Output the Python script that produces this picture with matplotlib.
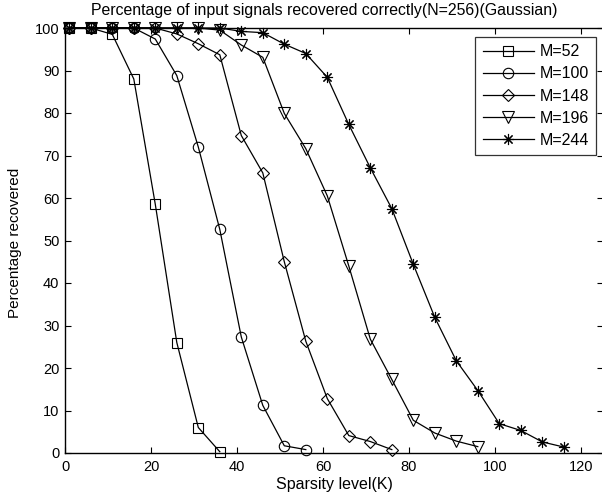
import matplotlib
matplotlib.use("Agg")
import matplotlib.pyplot as plt

plt.rcParams['font.family'] = ['Liberation Sans', 'DejaVu Sans']

K = [1, 6, 11, 16, 21, 26, 31, 36, 41, 46, 51, 56, 61, 66, 71, 76, 81, 86, 91, 96, 101, 106, 111, 116]

m52 = [100, 100, 98.5, 88, 58.5, 26, 6, 0.3]
m100 = [100, 100, 100, 100, 97.4, 88.8, 72, 52.6, 27.3, 11.2, 1.7, 0.8]
m148 = [100, 100, 100, 100, 100, 98.6, 96.3, 93.7, 74.7, 65.9, 45, 26.3, 12.8, 4.1, 2.7, 0.8]
m196 = [100, 100, 100, 100, 100, 100, 100, 99.5, 96, 93.1, 79.9, 71.6, 60.5, 44, 26.8, 17.3, 7.7, 4.7, 2.8, 1.5]
m244 = [100, 100, 100, 100, 100, 100, 100, 100, 99.2, 98.9, 96.2, 94, 88.4, 77.3, 67.1, 57.5, 44.4, 31.9, 21.7, 14.7, 6.9, 5.3, 2.6, 1.4]

series = [("M=52", m52, 's', 7.5), ("M=100", m100, 'o', 7.5), ("M=148", m148, 'D', 6),
          ("M=196", m196, 'v', 8.5), ("M=244", m244, (8, 2, 0), 8)]

W, H = 602, 501
fig = plt.figure(figsize=(W / 100, H / 100), dpi=100)
x0, x1, ytop, ybot = 65, 602.5, 28, 453
ax = fig.add_axes([x0 / W, 1 - ybot / H, (x1 - x0) / W, (ybot - ytop) / H])

for label, vals, mk, ms in series:
    ax.plot(K[:len(vals)], vals, color='black', lw=0.9, marker=mk, ms=ms,
            markerfacecolor='none', markeredgecolor='black', mew=0.8,
            label=label, clip_on=False)

ax.set_xlim(0, 125)
ax.set_ylim(0, 100)
ax.set_xticks(range(0, 121, 20))
ax.set_yticks(range(0, 101, 10))
ax.tick_params(direction='in', top=True, right=True, labelsize=10.5, length=4, width=0.8)
ax.tick_params(axis='y', pad=4)
ax.tick_params(axis='x', pad=5)
for s in ax.spines.values():
    s.set_linewidth(1.0)

fig.text(334 / W, 1 - 485 / H, "Sparsity level(K)", fontsize=11.5, ha='center', va='center')
fig.text(15 / W, 1 - 243 / H, "Percentage recovered", fontsize=11, ha='center', va='center',
         rotation=90)
fig.text(324 / W, 1 - 11 / H, "Percentage of input signals recovered correctly(N=256)(Gaussian)",
         fontsize=11.4, ha='center', va='center')

leg = ax.legend(loc='upper right', bbox_to_anchor=(596 / W, 1 - 37 / H),
                bbox_transform=fig.transFigure, fontsize=11.5, frameon=True, fancybox=False,
                edgecolor='black', handlelength=3.2, borderaxespad=0,
                labelspacing=0.45, handletextpad=0.35, borderpad=0.45)
leg.get_frame().set_linewidth(0.9)

fig.savefig("out.png", dpi=100)
